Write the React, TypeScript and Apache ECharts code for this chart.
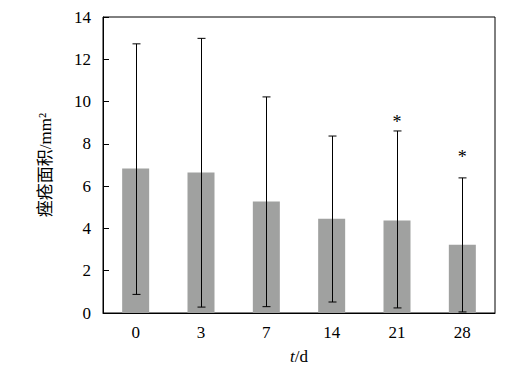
import React, { useEffect, useRef } from "react";
import * as echarts from "echarts";

const categories = ["0", "3", "7", "14", "21", "28"];
const meanValues = [6.83, 6.64, 5.27, 4.46, 4.37, 3.23];
const lowValues = [0.88, 0.28, 0.3, 0.52, 0.24, 0.05];
const highValues = [12.73, 12.99, 10.22, 8.37, 8.61, 6.39];
const starValues: (number | null)[] = [null, null, null, null, 9.18, 7.5];
const yTicks = { min: 0, max: 14, interval: 2 };

const FONT = "'Liberation Serif', 'Times New Roman', 'Noto Sans CJK SC', serif";

export default function App() {
  const ref = useRef<HTMLDivElement>(null);
  useEffect(() => {
    if (!ref.current) return;
    const chart = echarts.init(ref.current, null, { renderer: "svg" });
    chart.setOption({
      animation: false,
      backgroundColor: "#ffffff",
      grid: {
        left: 103,
        top: 17,
        right: 14,
        bottom: 57,
        show: true,
        borderColor: "#000",
        borderWidth: 1,
        backgroundColor: "transparent",
      },
      xAxis: {
        type: "category",
        data: categories,
        name: "{i|t}/d",
        nameLocation: "middle",
        nameGap: 35,
        nameTextStyle: {
          color: "#000",
          fontFamily: FONT,
          fontSize: 17,
          rich: { i: { fontStyle: "italic", fontFamily: FONT, fontSize: 17, color: "#000" } },
        },
        axisLine: { lineStyle: { color: "#000", width: 1 } },
        axisTick: { inside: true, length: 7, lineStyle: { color: "#000" } },
        axisLabel: { color: "#000", fontFamily: FONT, fontSize: 17, margin: 11 },
        splitLine: { show: false },
      },
      yAxis: {
        type: "value",
        min: yTicks.min,
        max: yTicks.max,
        interval: yTicks.interval,
        name: "痤疮面积/mm²",
        nameLocation: "middle",
        nameGap: 49,
        nameTextStyle: { color: "#000", fontFamily: FONT, fontSize: 17 },
        axisLine: { show: true, lineStyle: { color: "#000", width: 1 } },
        axisTick: { show: true, inside: true, length: 6, lineStyle: { color: "#000" } },
        axisLabel: { color: "#000", fontFamily: FONT, fontSize: 17, margin: 12 },
        splitLine: { show: false },
      },
      series: [
        {
          type: "bar",
          data: meanValues,
          barWidth: 27,
          itemStyle: { color: "#a0a1a0" },
        },
        {
          type: "custom",
          data: categories.map((_, i) => [i, lowValues[i], highValues[i]]),
          encode: { x: 0, y: [1, 2] },
          renderItem: (params: any, api: any) => {
            const i = api.value(0);
            const lo = api.coord([i, api.value(1)]);
            const hi = api.coord([i, api.value(2)]);
            const x = Math.round(lo[0]) + 0.5;
            const hw = 4;
            const st = { stroke: "#000", lineWidth: 1 };
            return {
              type: "group",
              children: [
                { type: "line", shape: { x1: x, y1: lo[1], x2: x, y2: hi[1] }, style: st },
                { type: "line", shape: { x1: x - hw, y1: lo[1], x2: x + hw, y2: lo[1] }, style: st },
                { type: "line", shape: { x1: x - hw, y1: hi[1], x2: x + hw, y2: hi[1] }, style: st },
              ],
            };
          },
          z: 5,
        },
        {
          type: "custom",
          data: categories
            .map((_, i) => (starValues[i] == null ? null : [i, starValues[i]]))
            .filter((d) => d !== null),
          encode: { x: 0, y: 1 },
          renderItem: (params: any, api: any) => {
            const p = api.coord([api.value(0), api.value(1)]);
            return {
              type: "text",
              x: p[0],
              y: p[1] + 3,
              style: {
                text: "*",
                fill: "#000",
                font: `18px ${FONT}`,
                textAlign: "center",
                textVerticalAlign: "middle",
              },
            };
          },
          z: 6,
        },
      ],
    });
    return () => chart.dispose();
  }, []);
  return (
    <div
      ref={ref}
      style={{ position: "fixed", left: 0, top: 0, width: 509, height: 370, background: "#fff" }}
    />
  );
}
